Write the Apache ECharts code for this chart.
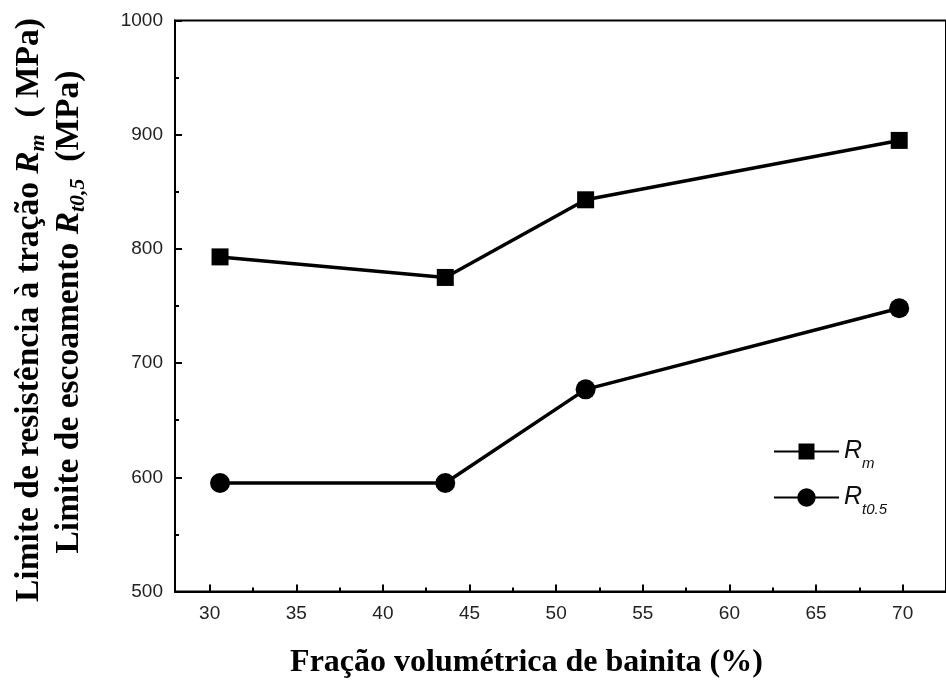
<!DOCTYPE html>
<html>
<head>
<meta charset="utf-8">
<script src="https://cdn.jsdelivr.net/npm/echarts@6/dist/echarts.min.js"></script>
<style>
  html, body { margin: 0; padding: 0; background: #fff; }
  #chart { width: 946px; height: 681px; }
</style>
</head>
<body>
<div id="chart"></div>
<script>
// Bainite volume fraction (%) and the measured strengths (MPa)
const bainiteFraction = [30.6, 43.6, 51.7, 69.8];
const tensileRm = [793, 775, 843, 895];
const yieldRt = [595, 595, 677, 748];

// Axis ticks
const xMajorTicks = [30, 35, 40, 45, 50, 55, 60, 65, 70];
const xMinorTicks = [32.5, 37.5, 42.5, 47.5, 52.5, 57.5, 62.5, 67.5];
const yMin = 500, yMax = 1000, yStep = 100;

const seriesNames = ['Rm', 'Rt0.5'];

const serif = '"Liberation Serif", "Times New Roman", serif';
const sans = '"Liberation Sans", Arial, sans-serif';

const chart = echarts.init(document.getElementById('chart'), null, { renderer: 'canvas' });

const pairs = (ys) => bainiteFraction.map((x, i) => [x, ys[i]]);

const titleRich = {
  t: { fontFamily: serif, fontWeight: 'bold', fontSize: 33.5, lineHeight: 40, color: '#000', verticalAlign: 'middle' },
  ti: { fontFamily: serif, fontWeight: 'bold', fontStyle: 'italic', fontSize: 33.5, lineHeight: 40, color: '#000', verticalAlign: 'middle' },
  sub: { fontFamily: serif, fontWeight: 'bold', fontStyle: 'italic', fontSize: 22, lineHeight: 20, color: '#000', verticalAlign: 'bottom' }
};

const legendText = {
  rich: {
    r: { fontFamily: sans, fontStyle: 'italic', fontSize: 25, lineHeight: 40, color: '#111', verticalAlign: 'middle' },
    s: { fontFamily: sans, fontStyle: 'italic', fontSize: 15, lineHeight: 12, color: '#111', verticalAlign: 'bottom' }
  }
};
const legendLabel = (name) => name === 'Rm' ? '{r|R}{s|m}' : '{r|R}{s|t0.5}';

const option = {
  backgroundColor: '#fff',
  animation: false,
  grid: {
    left: 175, top: 20.5, width: 779.8, height: 571,
    show: true, borderColor: '#000', borderWidth: 2, backgroundColor: 'transparent'
  },
  legend: [
    {
      orient: 'vertical', left: 773, top: 439, padding: 0,
      itemWidth: 65, itemHeight: 20, itemGap: 0,
      data: [seriesNames[0]],
      formatter: legendLabel, textStyle: legendText
    },
    {
      orient: 'vertical', left: 773, top: 485, padding: 0,
      itemWidth: 65, itemHeight: 23, itemGap: 0,
      data: [seriesNames[1]],
      formatter: legendLabel, textStyle: legendText
    }
  ],
  xAxis: [
    {
      type: 'value', min: 28, max: 72.5, position: 'bottom',
      axisLine: { lineStyle: { color: '#000', width: 2 } },
      axisTick: { inside: true, length: 7, customValues: xMajorTicks, lineStyle: { color: '#000', width: 2 } },
      axisLabel: { customValues: xMajorTicks, margin: 13, fontSize: 19, color: '#222', fontFamily: sans },
      splitLine: { show: false }
    },
    {
      type: 'value', min: 28, max: 72.5, position: 'bottom',
      axisLine: { show: false },
      axisTick: { inside: true, length: 4, customValues: xMinorTicks, lineStyle: { color: '#000', width: 2 } },
      axisLabel: { show: false },
      splitLine: { show: false }
    }
  ],
  yAxis: {
    type: 'value', min: yMin, max: yMax, interval: yStep,
    axisLine: { show: true, lineStyle: { color: '#000', width: 2 } },
    axisTick: { show: true, inside: true, length: 7, lineStyle: { color: '#000', width: 2 } },
    minorTick: { show: true, splitNumber: 2, length: 4, lineStyle: { color: '#000', width: 2 } },
    axisLabel: { margin: 12, fontSize: 19, color: '#222', fontFamily: sans, formatter: (v) => String(v) },
    splitLine: { show: false }
  },
  series: [
    {
      name: seriesNames[0], type: 'line', xAxisIndex: 0,
      data: pairs(tensileRm),
      symbol: 'rect', symbolSize: 17,
      lineStyle: { color: '#000', width: 3.5 },
      itemStyle: { color: '#000' }
    },
    {
      name: seriesNames[1], type: 'line', xAxisIndex: 0,
      data: pairs(yieldRt),
      symbol: 'circle', symbolSize: 20,
      lineStyle: { color: '#000', width: 3.5 },
      itemStyle: { color: '#000' }
    }
  ],
  graphic: [
    {
      type: 'text', x: 526.5, y: 662.5, silent: true,
      style: {
        text: 'Fração volumétrica de bainita (%)',
        font: 'bold 32px ' + serif, fill: '#000',
        align: 'center', verticalAlign: 'middle'
      }
    },
    {
      type: 'text', x: 29, y: 310, rotation: Math.PI / 2, silent: true,
      style: {
        text: '{t|Limite de resistência à tração }{ti|R}{sub|m}{t|  ( MPa)}',
        rich: titleRich, align: 'center', verticalAlign: 'middle'
      }
    },
    {
      type: 'text', x: 69, y: 312, rotation: Math.PI / 2, silent: true,
      style: {
        text: '{t|Limite de escoamento }{ti|R}{sub|t0,5}{t|  (MPa)}',
        rich: titleRich, align: 'center', verticalAlign: 'middle'
      }
    }
  ]
};

chart.setOption(option);
</script>
</body>
</html>
